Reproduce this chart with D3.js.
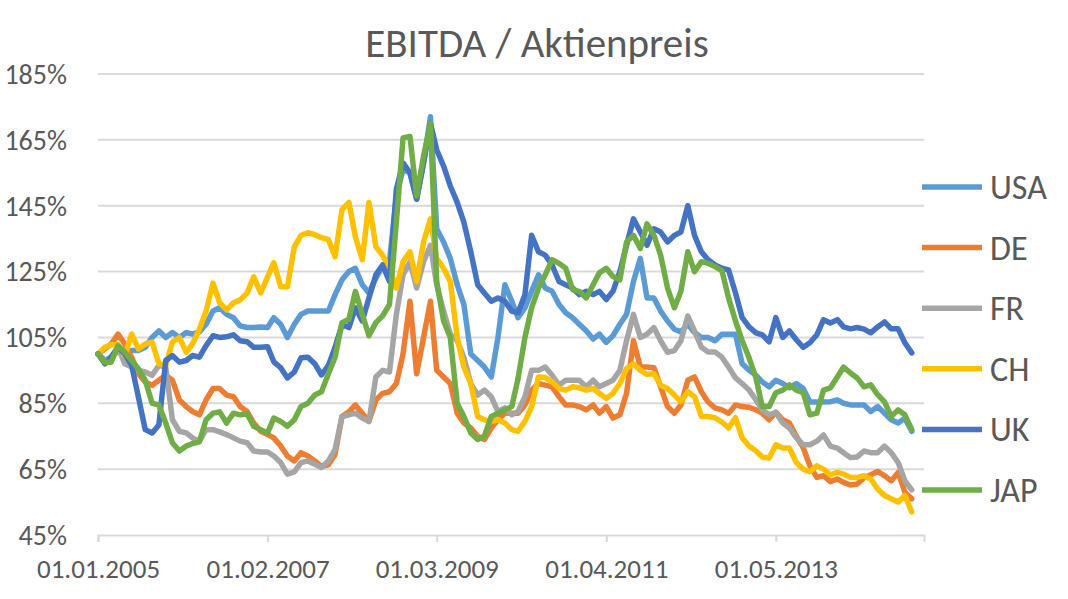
<!DOCTYPE html>
<html>
<head>
<meta charset="utf-8">
<script src="https://cdn.jsdelivr.net/npm/d3@7"></script>
<style>
  body { margin: 0; background: #fff; }
  svg text { font-family: Carlito, "Liberation Sans Narrow", "Arial Narrow", sans-serif; fill: #595959; }
</style>
</head>
<body>
<svg id="chart" width="1068" height="599"></svg>
<script>
// monthly values, Jan 2005 .. Jan 2015 (in %)
var countries = ["USA", "DE", "FR", "CH", "UK", "JAP"];
var colors = ["#5B9BD5", "#ED7D31", "#A5A5A5", "#FFC000", "#4472C4", "#70AD47"];

var usa = [100, 98, 99, 101, 100, 101, 101, 102, 105, 107,
  105, 106.5, 105, 106.5, 106, 106.7, 109, 113, 114, 112,
  111, 108.5, 108, 108, 108.2, 108, 111, 109, 105, 109,
  112, 113, 113, 113, 113, 118, 122.5, 125, 126, 121,
  118.5, 123, 126.5, 128, 148, 156, 155, 147, 158, 172,
  138, 134, 129, 121, 115, 100, 98, 96, 93, 105,
  121, 116, 111, 114, 119, 124, 120, 119, 115, 112.5,
  111, 109, 107, 104.5, 106, 103.5, 105.5, 109, 112, 122,
  129, 117, 117, 113, 110, 107.5, 106.7, 109, 106.5, 105,
  105, 104, 106, 106, 106, 97, 95, 93.5, 91.5, 90,
  92, 91, 89.7, 91, 89.5, 85.4, 85.4, 85.4, 85.5, 86,
  85, 84.5, 84.5, 84.5, 82.5, 84, 82, 80, 79, 80.5,
  76.5];

var de = [100, 101.5, 103, 106, 103, 99, 94, 91.5, 90.5, 92,
  93.5, 92, 86, 84, 82.5, 81.5, 86, 89.5, 89.5, 87.5,
  87, 84, 82.5, 79, 76.5, 75.5, 74.5, 72, 69, 67.5,
  70, 69, 67.5, 65.8, 66.3, 69.5, 81, 82.4, 84.5, 82,
  79.5, 86, 88, 88.5, 91, 100, 116, 94, 105, 116,
  95, 93, 91, 82, 79, 77.5, 75, 74, 77.5, 80,
  82, 82, 82, 84.5, 89, 91, 90.5, 90, 87, 84.5,
  84.5, 84, 83, 84.5, 82, 84, 80.5, 81.5, 88, 104,
  96, 96, 95.8, 90, 84, 82, 84.5, 92, 93, 88.5,
  85.4, 83.6, 83, 82, 84.5, 84, 83.8, 83, 82, 80,
  82.3, 80, 79, 75, 71.5, 66, 62.5, 63, 61.2, 62,
  61, 60.2, 60.5, 62.4, 63.3, 64.3, 63, 61.5, 64, 58,
  56];

var fr = [100, 98, 99, 102, 97, 96, 95, 94.5, 93.5, 96.5,
  96, 80, 76.5, 76, 74.5, 73.5, 77, 77, 76.3, 75.5,
  74.5, 73.5, 73, 70.5, 70.2, 70.2, 69, 67, 63.5, 64.2,
  67, 67.5, 66.5, 65.5, 67.5, 71, 81, 81.5, 82, 80.5,
  79.5, 93, 95, 94.5, 112, 124, 128, 120, 128, 133,
  121, 113, 106, 104, 99, 91, 87.5, 89, 87, 82.5,
  83.6, 81.5, 82.5, 87, 95, 95, 96, 93.5, 90.5, 92,
  92, 92, 90, 92, 90, 91, 92, 95, 104, 112,
  105, 106, 108, 104, 100.5, 101, 104, 111.5, 107, 102,
  100.6, 100.6, 99, 96, 92.7, 91, 89, 86, 83, 81.5,
  82.2, 79, 77.5, 74.5, 72.4, 72.4, 73.5, 75.4, 72, 71.4,
  70, 68.5, 68.7, 70.5, 70, 70, 72, 70, 67, 61.5,
  58.7];

var ch = [100, 102, 102.8, 102.8, 99.5, 106, 101.5, 103, 103.6, 97,
  96.5, 103.6, 105, 100.5, 103, 107.5, 113, 121.5, 115.5, 113.4,
  115.5, 116.4, 118.5, 123.4, 118.5, 123.4, 127.7, 120.4, 120.4, 132.5,
  136, 136.8, 136.2, 135.3, 134.7, 129.5, 143.8, 146, 135.6, 128.6,
  146, 132.5, 130, 126, 120, 128, 131, 122, 134, 141,
  129, 126, 122, 105, 96, 91, 81, 80, 79.5, 80,
  79, 77, 76.5, 79.5, 84, 93, 92.8, 91.5, 89.5, 89,
  90, 89.7, 89, 89.5, 88, 86.5, 88, 91, 95.5, 97,
  95, 93.8, 94, 90.5, 89.5, 87.5, 85.5, 88.5, 87, 81,
  81, 80.6, 79.3, 77.5, 80.6, 74.5, 72, 70.5, 68.7, 68.4,
  72.4, 71.4, 71.4, 67, 65, 64.2, 66, 65, 63.3, 64,
  63.5, 62.5, 62.5, 63, 62, 59, 57, 56, 55, 57,
  52];

var uk = [100, 97, 99, 102, 100, 96.5, 87, 77, 76, 78.4,
  98, 99.5, 97.5, 98, 99.5, 99, 102.5, 105.5, 105, 105.2,
  105.8, 104, 103.7, 102, 102, 102.2, 97.6, 95.8, 92.7, 94.5,
  98.8, 99, 97, 93.6, 96.5, 102, 108.8, 108, 114, 110,
  117, 124, 127, 122, 150, 158, 155, 147, 158, 170,
  162, 157, 151, 146, 140, 131, 121, 118.5, 116, 117,
  116, 113, 112.5, 118, 136, 131, 130, 127, 122, 121,
  120, 118, 119, 118, 119, 116.5, 119, 125, 133, 141,
  137, 133, 138, 137, 134, 136, 137, 145, 136, 131,
  128.6, 127, 126, 125.5, 118.5, 111, 108.2, 106.4, 105.8, 103.7,
  111, 105, 107, 104.3, 102, 103.4, 105.8, 110.4, 109.4, 110.4,
  108.2, 107.6, 108, 107.5, 106.4, 108.2, 109.7, 107.6, 107.6, 103.4,
  100.3];

var jap = [100, 97.5, 97.5, 102.5, 100.5, 98, 95.5, 92, 85, 84.5,
  79, 73, 70.5, 72, 72.8, 73.3, 80, 82, 82.4, 79,
  82, 81.5, 81.8, 78, 77, 76, 80.5, 79.5, 78, 80,
  84, 85, 87.5, 88.5, 94, 99, 109.5, 110.5, 119, 112,
  105.5, 109.5, 111.5, 115, 140, 165.6, 166, 148, 160, 170,
  122, 110, 105, 85, 81, 76, 74, 75, 81, 82,
  83, 84, 92.5, 105, 114, 120, 124, 128.6, 127.5, 126,
  119.5, 119, 117, 121, 124.6, 126, 123.5, 122.5, 134, 136,
  132, 139.5, 136, 130, 120, 114, 119, 131, 125, 128,
  127.5, 126.5, 125.3, 117, 110, 104, 98.8, 92.7, 84, 84,
  88.2, 89, 90.6, 89, 88.2, 81.5, 82, 89, 89.7, 93,
  96, 94.2, 92.7, 90, 90.6, 87.6, 85.4, 81, 83, 81.5,
  77];

var yTicks = [45, 65, 85, 105, 125, 145, 165, 185];
var xTickLabels = ["01.01.2005", "01.02.2007", "01.03.2009", "01.04.2011", "01.05.2013"];

var parseDate = d3.timeParse("%d.%m.%Y");
var months = d3.timeMonth.range(new Date(2005, 0, 1), new Date(2015, 1, 1));
var seriesValues = [usa, de, fr, ch, uk, jap];

var svg = d3.select("#chart");

var x = d3.scaleTime()
    .domain([new Date(2005, 0, 1), new Date(2015, 1, 25)])
    .range([98, 924]);
var y = d3.scaleLinear().domain([45, 185]).range([535, 74]);

// title
svg.append("text")
    .attr("x", 537).attr("y", 57)
    .attr("text-anchor", "middle")
    .style("font-size", "41px")
    .text("EBITDA / Aktienpreis");

// gridlines
svg.append("g").selectAll("line")
    .data(yTicks.slice(1))
    .join("line")
    .attr("x1", 98).attr("x2", 924)
    .attr("y1", function (d) { return y(d); })
    .attr("y2", function (d) { return y(d); })
    .attr("stroke", "#D9D9D9").attr("stroke-width", 2);

// y axis labels
svg.append("g").selectAll("text")
    .data(yTicks)
    .join("text")
    .attr("x", 67)
    .attr("y", function (d) { return y(d); })
    .attr("dy", "0.35em")
    .attr("text-anchor", "end")
    .style("font-size", "28px")
    .text(function (d) { return d + "%"; });

// x axis
var xAxis = d3.axisBottom(x)
    .tickValues(xTickLabels.map(parseDate))
    .tickFormat(d3.timeFormat("%d.%m.%Y"))
    .tickSize(7)
    .tickPadding(17);

var gx = svg.append("g")
    .attr("transform", "translate(0," + y(45) + ")")
    .call(xAxis);
gx.select(".domain").attr("stroke", "#D9D9D9").attr("stroke-width", 2);
gx.selectAll(".tick line").attr("stroke", "#D9D9D9").attr("stroke-width", 2);
gx.selectAll(".tick text")
    .attr("fill", "#595959")
    .style("font-size", "27px")
    .style("font-family", 'Carlito, "Liberation Sans Narrow", "Arial Narrow", sans-serif');

// series lines
var line = d3.line()
    .x(function (d, i) { return x(months[i]); })
    .y(function (d) { return y(d); });

svg.append("g").selectAll("path")
    .data(seriesValues)
    .join("path")
    .attr("d", line)
    .attr("fill", "none")
    .attr("stroke", function (d, i) { return colors[i]; })
    .attr("stroke-width", 5.5)
    .attr("stroke-linejoin", "round")
    .attr("stroke-linecap", "round");

// legend
var legend = svg.append("g").selectAll("g")
    .data(countries)
    .join("g")
    .attr("transform", function (d, i) { return "translate(0," + (187 + i * 60.6) + ")"; });
legend.append("line")
    .attr("x1", 922).attr("x2", 982)
    .attr("stroke", function (d, i) { return colors[i]; })
    .attr("stroke-width", 5.5);
legend.append("text")
    .attr("x", 990).attr("dy", "0.35em")
    .style("font-size", "34px")
    .text(function (d) { return d; });
</script>
</body>
</html>
